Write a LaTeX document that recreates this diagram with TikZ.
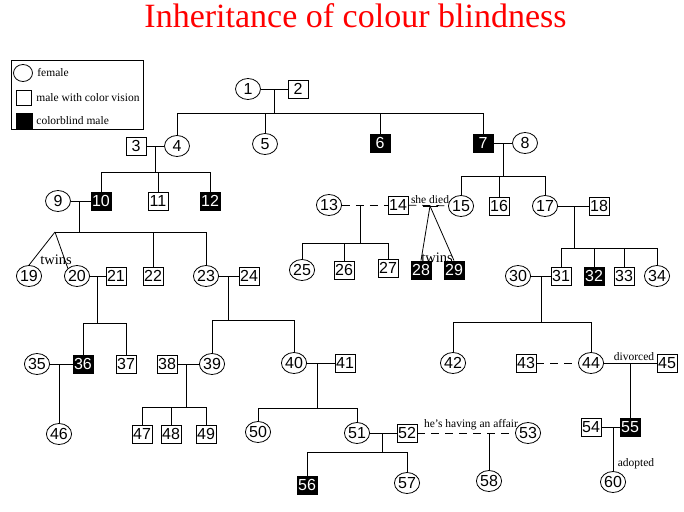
\documentclass[tikz,border=0pt]{standalone}
\usepackage{fontspec}
\setmainfont{Liberation Serif}
\newfontfamily\numfont{Liberation Sans}
\usetikzlibrary{shapes.geometric}
\begin{document}
\begin{tikzpicture}[x=1pt,y=-1pt,line width=0.8pt,
  numf/.style={font=\numfont\fontsize{16}{16}\selectfont},
  fem/.style={draw,ellipse,minimum width=25pt,minimum height=21pt,inner sep=0pt,numf},
  male/.style={draw,rectangle,minimum width=20pt,minimum height=18pt,inner sep=0pt,numf},
  cb/.style={male,fill=black,text=white},
  lbl/.style={font=\fontsize{11.5}{12}\selectfont,inner sep=0pt},
  twl/.style={font=\fontsize{14.5}{15}\selectfont,inner sep=0pt},
  dsh/.style={dash pattern=on 8pt off 6pt}]
\useasboundingbox (0,0) rectangle (684,511);

% title
\node[text=red,font=\fontsize{34}{36}\selectfont,anchor=base,inner sep=0pt] (title) at (355.5,28) {Inheritance of colour blindness};

% legend
\node[draw,line width=0.8pt,minimum width=132pt,minimum height=69pt,inner sep=0pt] (legend) at (77,94.5) {};
\node[draw,ellipse,minimum width=19pt,minimum height=17pt,inner sep=0pt] (lgf) at (23,73) {};
\node[lbl,anchor=west] (lgft) at (37,73) {female};
\node[draw,minimum width=15pt,minimum height=15pt,inner sep=0pt] (lgm) at (24,98) {};
\node[lbl,anchor=west] (lgmt) at (36,98) {male with color vision};
\node[draw,fill=black,minimum width=16pt,minimum height=15pt,inner sep=0pt] (lgc) at (24,121) {};
\node[lbl,anchor=west] (lgct) at (36,121) {colorblind male};

% generation I
\node[fem] (n1) at (248,89) {1};
\node[male] (n2) at (298,89) {2};
% generation II
\node[male] (n3) at (136,146) {3};
\node[fem] (n4) at (177,146) {4};
\node[fem] (n5) at (265,144) {5};
\node[cb] (n6) at (380,143) {6};
\node[cb] (n7) at (483,143) {7};
\node[fem] (n8) at (525,143) {8};
% generation III
\node[fem] (n9) at (58,201) {9};
\node[cb] (n10) at (101,201) {10};
\node[male] (n11) at (158,201) {11};
\node[cb] (n12) at (210,201) {12};
\node[fem] (n13) at (329,205) {13};
\node[male] (n14) at (398,205) {14};
\node[fem] (n15) at (461,206) {15};
\node[male] (n16) at (499,206) {16};
\node[fem] (n17) at (545,206) {17};
\node[male] (n18) at (599,206) {18};
% generation IV
\node[fem] (n19) at (29,276) {19};
\node[fem] (n20) at (77,276) {20};
\node[male] (n21) at (116,276) {21};
\node[male] (n22) at (153,276) {22};
\node[fem] (n23) at (206,276) {23};
\node[male] (n24) at (249,276) {24};
\node[fem] (n25) at (302,270) {25};
\node[male] (n26) at (344,270) {26};
\node[male] (n27) at (388,268) {27};
\node[cb] (n28) at (421,270) {28};
\node[cb] (n29) at (454,270) {29};
\node[fem] (n30) at (518,276) {30};
\node[male] (n31) at (561,276) {31};
\node[cb] (n32) at (594,276) {32};
\node[male] (n33) at (624,276) {33};
\node[fem] (n34) at (657,276) {34};
% generation V
\node[fem] (n35) at (37,364) {35};
\node[cb] (n36) at (83,364) {36};
\node[male] (n37) at (126,364) {37};
\node[male] (n38) at (167,364) {38};
\node[fem] (n39) at (212,364) {39};
\node[fem] (n40) at (294,363) {40};
\node[male] (n41) at (345,363) {41};
\node[fem] (n42) at (453,363) {42};
\node[male] (n43) at (526,363) {43};
\node[fem] (n44) at (591,363) {44};
\node[male] (n45) at (667,363) {45};
% generation VI
\node[fem] (n46) at (59,434) {46};
\node[male] (n47) at (142,434) {47};
\node[male] (n48) at (171,434) {48};
\node[male] (n49) at (206,434) {49};
\node[fem] (n50) at (258,432) {50};
\node[fem] (n51) at (357,433) {51};
\node[male] (n52) at (407,433) {52};
\node[fem] (n53) at (528,433) {53};
\node[male] (n54) at (591,427) {54};
\node[cb] (n55) at (630,427) {55};
% generation VII
\node[cb] (n56) at (307,485) {56};
\node[fem] (n57) at (407,483) {57};
\node[fem] (n58) at (489,481) {58};
\node[fem] (n60) at (613,482) {60};

% ---- connectors ----
% 1-2
\coordinate (j12) at (274,89); \coordinate (s12) at (274,113);
\draw (n1) -- (n2); \draw (j12) -- (s12);
\draw (n4 |- s12) -- (n7 |- s12);
\foreach \c in {4,5,6,7} \draw (n\c |- s12) -- (n\c);
% 3-4
\coordinate (j34) at (155,146); \coordinate (s34) at (155,172);
\draw (n3) -- (n4); \draw (j34) -- (s34);
\draw (n10 |- s34) -- (n12 |- s34);
\foreach \c in {10,11,12} \draw (n\c |- s34) -- (n\c);
% 9-10
\coordinate (j910) at (79,201); \coordinate (s910) at (79,232); \coordinate (tw1) at (55,232);
\draw (n9) -- (n10); \draw (j910) -- (s910);
\draw (tw1) -- (n23 |- s910);
\foreach \c in {22,23} \draw (n\c |- s910) -- (n\c);
\draw (tw1) -- (n19.north); \draw (tw1) -- (n20.north west);
\node[twl] (tw1t) at (56,260) {twins};
% 7-8
\coordinate (j78) at (503,143); \coordinate (s78) at (503,176);
\draw (n7) -- (n8); \draw (j78) -- (s78);
\draw (n15 |- s78) -- (n17 |- s78);
\foreach \c in {15,16,17} \draw (n\c |- s78) -- (n\c);
% 13-14
\coordinate (j1314) at (360,205); \coordinate (s1314) at (360,243);
\draw[dsh] (n13) -- (n14); \draw (j1314) -- (s1314);
\draw (n25 |- s1314) -- (n27 |- s1314);
\foreach \c in {25,26,27} \draw (n\c |- s1314) -- (n\c);
% 14-15
\coordinate (tw2) at (430,206);
\coordinate (tw2a) at (423,206); \coordinate (tw2b) at (438,206);
\draw[dsh] (n14) -- (n15);
\draw (tw2a) -- (tw2b);
\node[lbl] (died) at (430,200) {she died};
\draw (tw2) -- (n28.north); \draw (tw2) -- (n29.north);
\node[twl] (tw2t) at (437,258) {twins};
% 17-18
\coordinate (j1718) at (574,206); \coordinate (s1718) at (574,248);
\draw (n17) -- (n18); \draw (j1718) -- (s1718);
\draw (n31 |- s1718) -- (n34 |- s1718);
\foreach \c in {31,32,33,34} \draw (n\c |- s1718) -- (n\c);
% 20-21
\coordinate (j2021) at (97,276); \coordinate (s2021) at (97,323);
\draw (n20) -- (n21); \draw (j2021) -- (s2021);
\draw (n36 |- s2021) -- (n37 |- s2021);
\foreach \c in {36,37} \draw (n\c |- s2021) -- (n\c);
% 23-24
\coordinate (j2324) at (228,276); \coordinate (s2324) at (228,320);
\draw (n23) -- (n24); \draw (j2324) -- (s2324);
\draw (n39 |- s2324) -- (n40 |- s2324);
\foreach \c in {39,40} \draw (n\c |- s2324) -- (n\c);
% 30-31
\coordinate (j3031) at (541,276); \coordinate (s3031) at (541,322);
\draw (n30) -- (n31); \draw (j3031) -- (s3031);
\draw (n42 |- s3031) -- (n44 |- s3031);
\foreach \c in {42,44} \draw (n\c |- s3031) -- (n\c);
% 35-36
\coordinate (j3536) at (59,364);
\draw (n35) -- (n36); \draw (j3536) -- (n46);
% 38-39
\coordinate (j3839) at (186,364); \coordinate (s3839) at (186,407);
\draw (n38) -- (n39); \draw (j3839) -- (s3839);
\draw (n47 |- s3839) -- (n49 |- s3839);
\foreach \c in {47,48,49} \draw (n\c |- s3839) -- (n\c);
% 40-41
\coordinate (j4041) at (317,363); \coordinate (s4041) at (317,408);
\draw (n40) -- (n41); \draw (j4041) -- (s4041);
\draw (n50 |- s4041) -- (n51 |- s4041);
\foreach \c in {50,51} \draw (n\c |- s4041) -- (n\c);
% 43-44
\draw[dsh] (n43) -- (n44);
% 44-45
\coordinate (j4445) at (630,363);
\draw (n44) -- (n45); \draw (j4445) -- (n55);
\node[lbl] (div) at (634,357) {divorced};
% 51-52
\coordinate (j5152) at (382,433); \coordinate (s5152) at (382,452);
\draw (n51) -- (n52); \draw (j5152) -- (s5152);
\draw (n56 |- s5152) -- (n57 |- s5152);
\foreach \c in {56,57} \draw (n\c |- s5152) -- (n\c);
% 52-53
\coordinate (j5253) at (489,433);
\draw[dsh] (n52) -- (n53); \draw (j5253) -- (n58);
\node[lbl] (aff) at (471,425) {he's having an affair};
% 54-55
\coordinate (j5455) at (613,427);
\draw (n54) -- (n55); \draw (j5455) -- (n60);
\node[lbl] (adop) at (636,464) {adopted};
\end{tikzpicture}
\end{document}
